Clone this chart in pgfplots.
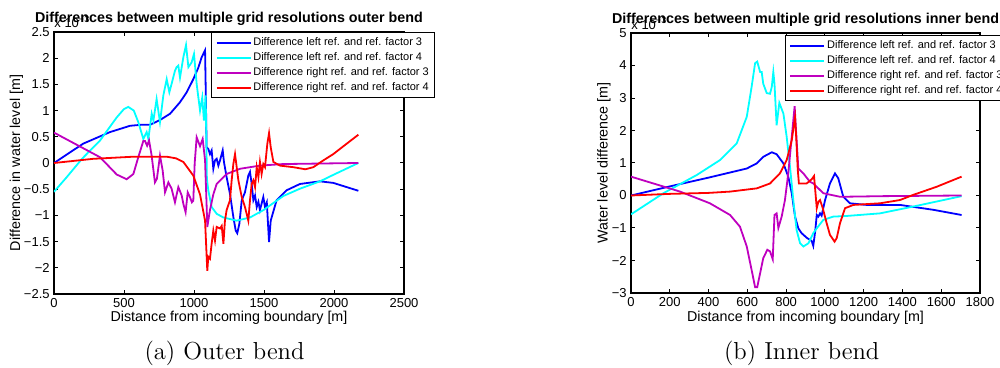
\documentclass[border=0pt]{standalone}
\usepackage{pgfplots}
\pgfplotsset{compat=1.18}
\usepackage{fontspec}
\newfontfamily\arial{Liberation Sans}
\definecolor{mblue}{rgb}{0,0,1}
\definecolor{mcyan}{rgb}{0,1,1}
\definecolor{mpurple}{rgb}{0.75,0,0.75}
\definecolor{mred}{rgb}{1,0,0}
\pgfplotsset{
  mystyle/.style={
    scale only axis,
    axis line style={line width=0.6pt},
    tick style={black, line width=0.5pt},
    major tick length=2pt,
    tick align=inside,
    xtick pos=both, ytick pos=both,
    /pgf/number format/assume math mode=true,
    ticklabel style={font=\arial\fontsize{6.5}{7}\selectfont},
    xticklabel style={inner sep=0pt, yshift=-2pt},
    yticklabel style={inner sep=0pt, xshift=-2pt},
    label style={font=\arial\fontsize{7.15}{8}\selectfont},
    title style={font=\arial\bfseries\fontsize{7.15}{8}\selectfont, at={(0.5,1)}, anchor=base, yshift=-1.45pt},
    legend cell align=left,
    legend image code/.code={\draw[#1, line width=0.9pt] (0pt,0pt) -- (17pt,0pt);},
    every axis plot/.append style={line width=0.9pt, no markers},
    extra description/.code={
      \node[anchor=base west, inner sep=0pt, font=\arial\fontsize{6.5}{7}\selectfont] at (0,1) [yshift=2pt] {x 10\textsuperscript{−3}};
    },
  },
  mylegend/.style={
    legend style={at={(#1)}, anchor=north west, draw=black, line width=0.6pt,
      font=\arial\fontsize{5.5}{6}\selectfont, inner xsep=2pt, inner ysep=1.3pt,
      nodes={text height=4.4pt, text depth=1.3pt, inner sep=0.9pt}},
  },
}
\begin{document}
\begin{tikzpicture}
\path[use as bounding box] (0,0) rectangle (500pt,184pt);
% ---------------- Outer bend ----------------
\begin{axis}[mystyle,
  at={(27pt,37pt)}, anchor=south west,
  width=175pt, height=131pt,
  xmin=0, xmax=2500, ymin=-2.5, ymax=2.5,
  xtick={0,500,1000,1500,2000,2500},
  xticklabels={0,500,1000,1500,2000,2500},
  ytick={-2.5,-2,-1.5,-1,-0.5,0,0.5,1,1.5,2,2.5},
  yticklabels={−2.5,−2,−1.5,−1,−0.5,0,0.5,1,1.5,2,2.5},
  title={Differences between multiple grid resolutions outer bend},
  xlabel={Distance from incoming boundary [m]},
  ylabel={Difference in water level [m]},
  xlabel style={at={(axis description cs:0.5,-0.1057)}, anchor=base},
  ylabel style={at={(axis description cs:-0.0971,0.5)}, anchor=base},
  mylegend={0.449,1},
]
\addplot[mblue] coordinates {
(0,0) (209,0.37) (400,0.59) (543,0.71) (626,0.73) (686,0.73) (757,0.82) (829,0.94) (900,1.16) (948,1.35) (995,1.60) (1031,1.82) (1055,2.02) (1079,2.15) (1085,1.2) (1090,0.30) (1102,0.27) (1114,0.17) (1126,0.24) (1138,-0.11) (1150,0.05) (1162,0.08) (1174,-0.05) (1186,0.05) (1205,0.24) (1214,0.02) (1233,-0.27) (1257,-0.59) (1281,-1.03) (1298,-1.29) (1309,-1.34) (1324,-1.16) (1341,-0.71) (1364,-0.56) (1388,-0.24) (1400,-0.17) (1412,-0.40) (1424,-0.71) (1436,-0.62) (1448,-0.84) (1460,-0.74) (1471,-0.90) (1495,-0.65) (1507,-0.84) (1520,-0.75) (1536,-1.51) (1548,-1.10) (1590,-0.71) (1662,-0.52) (1757,-0.40) (1900,-0.35) (1995,-0.38) (2174,-0.53)
};
\addplot[mcyan] coordinates {
(0,-0.55) (91,-0.27) (200,0.08) (329,0.43) (448,0.87) (500,1.03) (531,1.07) (570,1.0) (602,0.78) (638,0.46) (662,0.59) (674,0.46) (698,0.94) (710,0.81) (733,1.22) (757,0.78) (781,1.29) (805,1.60) (824,1.35) (840,1.51) (864,1.76) (876,1.83) (888,1.86) (900,1.63) (924,2.02) (943,2.25) (960,1.83) (983,1.92) (1000,2.08) (1019,1.51) (1043,1.00) (1059,1.25) (1071,0.81) (1083,1.29) (1088,0.5) (1092,-0.3) (1102,-0.52) (1126,-0.84) (1162,-0.97) (1210,-1.04) (1305,-1.10) (1400,-1.04) (1495,-0.90) (1590,-0.72) (1638,-0.63) (1757,-0.49) (1900,-0.35) (2000,-0.22) (2174,0)
};
\addplot[mpurple] coordinates {
(0,0.58) (329,0.11) (448,-0.22) (519,-0.31) (567,-0.21) (602,0.11) (638,0.42) (650,0.42) (665,0.33) (679,0.43) (697,0.15) (721,-0.37) (735,-0.30) (757,0.14) (776,-0.14) (793,-0.56) (817,-0.37) (840,-0.49) (864,-0.75) (888,-0.46) (912,-0.62) (924,-0.78) (940,-0.94) (955,-0.56) (971,-0.65) (985,-0.75) (995,-0.72) (1005,0) (1019,0.49) (1043,0.32) (1062,0.46) (1079,0.05) (1090,-0.8) (1095,-1.22) (1114,-0.90) (1138,-0.6) (1162,-0.40) (1233,-0.21) (1329,-0.11) (1471,-0.05) (1638,-0.02) (2174,0)
};
\addplot[mred] coordinates {
(0,0) (281,0.08) (567,0.12) (805,0.12) (870,0.09) (924,0.02) (995,-0.24) (1043,-0.60) (1079,-1.10) (1095,-2.06) (1102,-1.79) (1114,-1.83) (1126,-1.54) (1138,-1.29) (1150,-1.48) (1162,-1.22) (1186,-1.25) (1198,-1.2) (1210,-1.54) (1221,-1.10) (1233,-0.90) (1257,-0.71) (1269,-0.33) (1281,-0.02) (1293,0.17) (1305,-0.08) (1317,-0.33) (1341,-0.65) (1364,-0.84) (1388,-1.10) (1400,-0.71) (1412,-0.40) (1424,-0.33) (1436,-0.46) (1448,-0.08) (1460,-0.27) (1471,0.02) (1483,-0.21) (1495,-0.02) (1507,-0.08) (1524,0.37) (1536,0.57) (1548,0.30) (1567,0.02) (1614,-0.05) (1710,-0.08) (1795,-0.12) (1852,-0.08) (1924,0.05) (1995,0.17) (2043,0.27) (2174,0.54)
};
\legend{Difference left ref. and ref. factor 3, Difference left ref. and ref. factor 4, Difference right ref. and ref. factor 3, Difference right ref. and ref. factor 4}
\end{axis}
% ---------------- Inner bend ----------------
\begin{axis}[mystyle,
  at={(315.5pt,37.5pt)}, anchor=south west,
  width=174.5pt, height=130pt,
  xmin=0, xmax=1800, ymin=-3, ymax=5,
  xtick={0,200,400,600,800,1000,1200,1400,1600,1800},
  xticklabels={0,200,400,600,800,1000,1200,1400,1600,1800},
  ytick={-3,-2,-1,0,1,2,3,4,5},
  yticklabels={−3,−2,−1,0,1,2,3,4,5},
  title={Differences between multiple grid resolutions inner bend},
  xlabel={Distance from incoming boundary [m]},
  ylabel={Water level difference [m]},
  xlabel style={at={(axis description cs:0.5,-0.1096)}, anchor=base},
  ylabel style={at={(axis description cs:-0.0673,0.5)}, anchor=base},
  mylegend={0.441,0.992},
]
\addplot[mblue] coordinates {
(0,0) (200,0.28) (400,0.55) (597,0.83) (649,0.99) (682,1.19) (726,1.33) (751,1.27) (786,0.99) (811,0.58) (829,0.07) (846,-0.65) (863,-1.01) (880,-1.16) (906,-1.30) (932,-1.40) (940,-1.55) (950,-1.1) (958,-0.6) (966,-0.65) (975,-0.55) (983,-0.62) (1001,-0.14) (1026,0.37) (1052,0.68) (1069,0.53) (1095,-0.04) (1129,-0.24) (1215,-0.29) (1387,-0.29) (1559,-0.44) (1705,-0.60)
};
\addplot[mcyan] coordinates {
(0,-0.58) (167,0.07) (339,0.63) (459,1.09) (545,1.60) (597,2.42) (622,3.34) (640,4.07) (651,4.12) (666,3.80) (674,3.80) (682,3.44) (700,3.15) (717,3.13) (726,3.34) (734,3.80) (740,3.44) (751,2.16) (765,2.85) (786,2.52) (803,1.80) (820,0.88) (837,-0.14) (854,-1.06) (872,-1.47) (889,-1.57) (915,-1.47) (940,-1.16) (958,-1.01) (992,-0.75) (1043,-0.65) (1112,-0.63) (1284,-0.55) (1456,-0.34) (1705,-0.02)
};
\addplot[mpurple] coordinates {
(0,0.58) (253,0.12) (407,-0.24) (511,-0.60) (562,-0.96) (597,-1.57) (622,-2.29) (640,-2.82) (651,-2.82) (666,-2.39) (682,-1.93) (703,-1.67) (717,-1.72) (731,-1.96) (740,-0.6) (751,-0.55) (760,-1.0) (777,-0.65) (794,-0.14) (811,0.68) (829,1.80) (844,2.75) (849,2.21) (863,0.83) (889,0.68) (923,0.42) (940,0.37) (992,0.07) (1078,-0.04) (1300,-0.02) (1705,0)
};
\addplot[mred] coordinates {
(0,0) (200,0.05) (400,0.08) (511,0.12) (649,0.22) (717,0.37) (768,0.68) (803,1.09) (829,1.70) (846,2.40) (852,1.8) (860,0.8) (866,0.37) (906,0.37) (932,0.50) (944,0.60) (958,-0.39) (966,-0.2) (975,-0.14) (989,-0.39) (1009,-0.85) (1026,-1.21) (1050,-1.42) (1061,-1.31) (1078,-0.85) (1104,-0.39) (1147,-0.29) (1284,-0.24) (1387,-0.14) (1456,0.02) (1577,0.27) (1705,0.58)
};
\legend{Difference left ref. and ref. factor 3, Difference left ref. and ref. factor 4, Difference right ref. and ref. factor 3, Difference right ref. and ref. factor 4}
\end{axis}
\node[font=\fontsize{12.3}{14}\selectfont] at (112.25pt,7.5pt) {(a) Outer bend};
\node[font=\fontsize{12.3}{14}\selectfont] at (400.85pt,7.5pt) {(b) Inner bend};
\end{tikzpicture}
\end{document}
